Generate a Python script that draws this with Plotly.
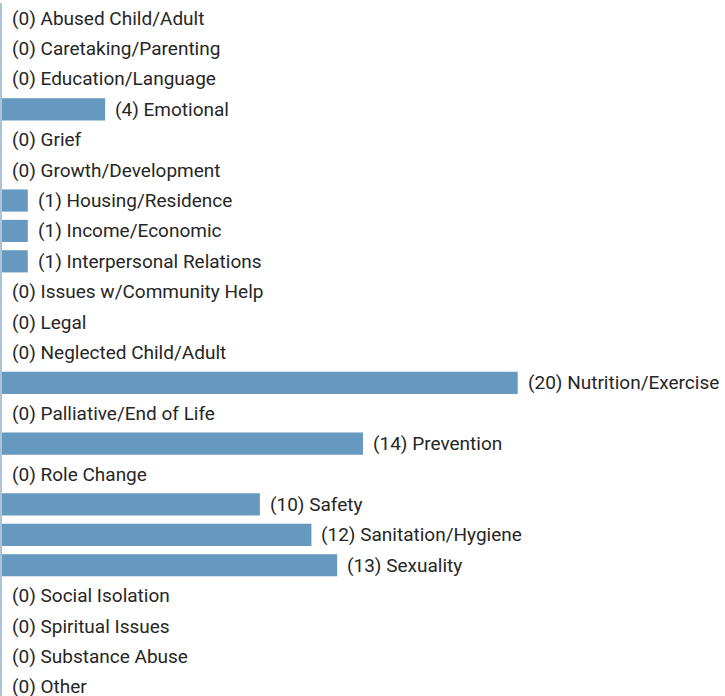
import plotly.graph_objects as go

categories = ["Abused Child/Adult", "Caretaking/Parenting", "Education/Language", "Emotional",
              "Grief", "Growth/Development", "Housing/Residence", "Income/Economic",
              "Interpersonal Relations", "Issues w/Community Help", "Legal", "Neglected Child/Adult",
              "Nutrition/Exercise", "Palliative/End of Life", "Prevention", "Role Change",
              "Safety", "Sanitation/Hygiene", "Sexuality", "Social Isolation",
              "Spiritual Issues", "Substance Abuse", "Other"]
values = [0, 0, 0, 4, 0, 0, 1, 1, 1, 0, 0, 0, 20, 0, 14, 0, 10, 12, 13, 0, 0, 0, 0]

labels = [f"({v}) {c}" for v, c in zip(values, categories)]

fig = go.Figure()
fig.add_trace(go.Bar(
    x=values, y=categories, orientation="h",
    marker=dict(color="#6699bf", line=dict(width=0)),
    hoverinfo="skip",
))
for v, c, t in zip(values, categories, labels):
    fig.add_annotation(x=v, y=c, text=t, showarrow=False, xanchor="left",
                       xshift=8, font=dict(family="Roboto", size=19, color="#262626"))

fig.update_layout(
    width=725, height=702,
    margin=dict(l=2, r=0, t=3, b=0),
    plot_bgcolor="white", paper_bgcolor="white",
    bargap=0.27,
    showlegend=False,
    xaxis=dict(range=[0, 28.04], visible=False, fixedrange=True),
    yaxis=dict(autorange="reversed", showticklabels=False, showgrid=False,
               showline=True, linecolor="#a9c3d9", linewidth=2, zeroline=False,
               fixedrange=True, ticks=""),
)
fig.write_html("out.html", config={"displayModeBar": False},
               post_script="document.body.style.margin='0';")
